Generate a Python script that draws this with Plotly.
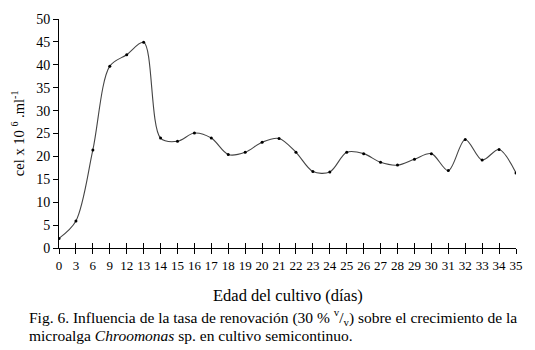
import plotly.graph_objects as go

days = ["0", "3", "6", "9", "12", "13", "14", "15", "16", "17", "18", "19", "20",
        "21", "22", "23", "24", "25", "26", "27", "28", "29", "30", "31", "32",
        "33", "34", "35"]
cells = [2.1, 5.9, 21.4, 39.7, 42.2, 44.9, 24.0, 23.3, 25.1, 24.0, 20.4, 20.9,
         23.1, 23.9, 20.9, 16.7, 16.6, 20.9, 20.6, 18.7, 18.1, 19.4, 20.6, 16.9,
         23.7, 19.2, 21.5, 16.4]
y_ticks = list(range(0, 51, 5))

FONT = "Liberation Serif, Times New Roman, DejaVu Serif, serif"

L, R, T, B = 59, 523, 14, 248
W, H = 535, 350
PW, PH = R - L, B - T

def px(x):
    return (x - L) / PW

def py(y):
    return (B - y) / PH

fig = go.Figure()
fig.add_trace(go.Scatter(
    x=days, y=cells, mode="lines+markers",
    line=dict(color="#444444", width=1.1, shape="spline", smoothing=0.9),
    marker=dict(color="black", size=3),
    showlegend=False, hoverinfo="x+y",
))
# invisible trace on overlay axis to draw ticks above the axis line
fig.add_trace(go.Scatter(x=days, y=cells, xaxis="x2", mode="markers",
                         marker=dict(opacity=0), showlegend=False, hoverinfo="skip"))

fig.update_layout(
    width=W, height=H,
    margin=dict(l=L, r=W - R, t=T, b=H - B),
    paper_bgcolor="white", plot_bgcolor="white",
    font=dict(family=FONT, color="black", size=13),
    xaxis=dict(
        type="category", categoryorder="array", categoryarray=days,
        range=[0, len(days) - 1],
        showline=True, linecolor="black", linewidth=1,
        ticks="outside", ticklen=5, tickcolor="black", tickwidth=1,
        showgrid=False, zeroline=False, ticklabeloverflow="allow",
        tickfont=dict(family=FONT, size=13),
        title=None,
    ),
    xaxis2=dict(
        type="category", categoryorder="array", categoryarray=days,
        range=[0, len(days) - 1], overlaying="x", side="bottom",
        anchor="y", matches="x",
        ticks="inside", ticklen=5, tickcolor="black", tickwidth=1,
        showticklabels=False, showgrid=False, zeroline=False, showline=False,
    ),
    yaxis=dict(
        range=[0, 50], tickvals=y_ticks,
        showline=True, linecolor="black", linewidth=1,
        ticks="outside", ticklen=5, tickcolor="black", tickwidth=1,
        showgrid=False, zeroline=False, ticklabeloverflow="allow",
        tickfont=dict(family=FONT, size=14),
        title=None,
    ),
    annotations=[
        dict(text="cel x 10 <sup>6</sup> .ml<sup>-1</sup>", xref="paper", yref="paper",
             x=px(17), y=py(131), textangle=-90, showarrow=False,
             font=dict(family=FONT, size=14.5), xanchor="center", yanchor="middle"),
        dict(text="Edad del cultivo (días)", xref="paper", yref="paper",
             x=px(291), y=py(297), showarrow=False,
             font=dict(family=FONT, size=16.5), xanchor="center", yanchor="middle"),
        dict(text="Fig. 6. Influencia de la tasa de renovación (30 % <sup>v</sup>/<sub>v</sub>) sobre el crecimiento de la",
             xref="paper", yref="paper", x=px(27), y=py(319), showarrow=False,
             font=dict(family=FONT, size=15.5), xanchor="left", yanchor="middle"),
        dict(text="microalga <i>Chroomonas</i> sp. en cultivo semicontinuo.",
             xref="paper", yref="paper", x=px(27), y=py(337), showarrow=False,
             font=dict(family=FONT, size=15.5), xanchor="left", yanchor="middle"),
    ],
)

fig.write_html("out.html", config={"displayModeBar": False},
               post_script="document.body.style.margin='0';document.body.style.overflow='hidden';")
